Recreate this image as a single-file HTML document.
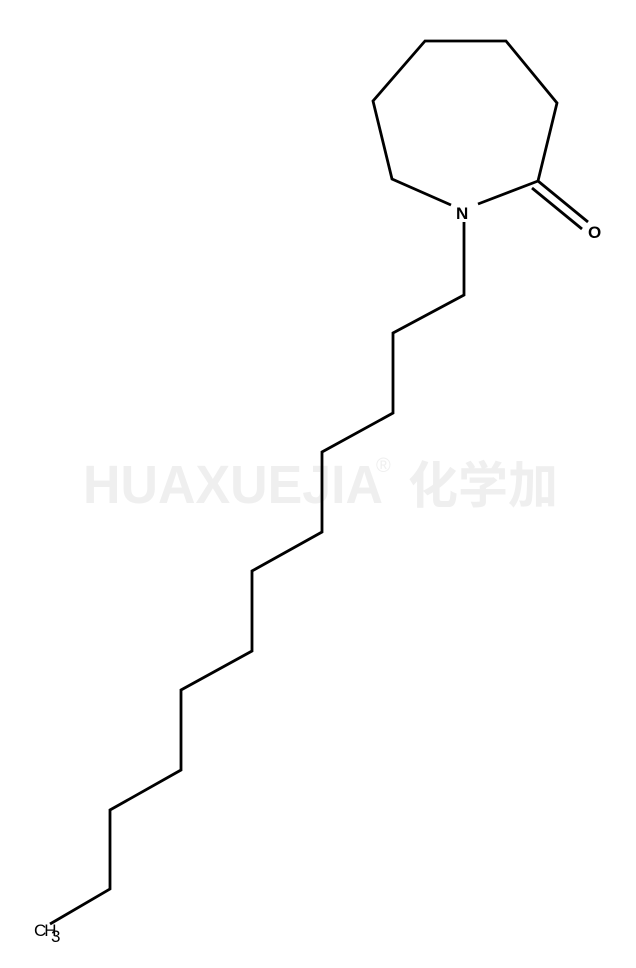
<!DOCTYPE html>
<html><head><meta charset="utf-8"><style>
html,body{margin:0;padding:0;background:#fff;}
svg{display:block}
</style></head><body>
<svg width="636" height="968" xmlns="http://www.w3.org/2000/svg">
<text x="83" y="503" font-family="'Liberation Sans','Noto Sans CJK SC',sans-serif" font-weight="bold" font-size="54" fill="#efefef" textLength="300" lengthAdjust="spacingAndGlyphs">HUAXUEJIA</text>
<text x="376" y="472" font-family="'Liberation Sans',sans-serif" font-size="20" fill="#efefef">®</text>
<text x="408" y="503" font-family="'Noto Sans CJK SC',sans-serif" font-weight="bold" font-size="50" fill="#efefef">化学加</text>
<g stroke="#000" stroke-width="2.8" fill="none" stroke-linejoin="miter">
<polyline points="451,205 392,179 373,101 425,41 506,41 557,103 538,181 478,204"/>
<line x1="538" y1="181" x2="588" y2="222"/>
<line x1="532" y1="188" x2="582" y2="229"/>
<polyline points="464,222 464,295 393,333 393,413 322,452 322,532 252,571 252,651 181,690 181,770 110,810 110,889 50,924"/>
</g>
<g font-family="'Liberation Sans',sans-serif" font-weight="bold" font-size="17" fill="#000">
<text x="456" y="219">N</text>
<text x="588" y="238">O</text>
<text x="34" y="936" font-weight="normal" font-size="17" letter-spacing="-2">CH</text>
<text x="51" y="942" font-weight="normal" font-size="17">3</text>
</g>
</svg>
</body></html>
